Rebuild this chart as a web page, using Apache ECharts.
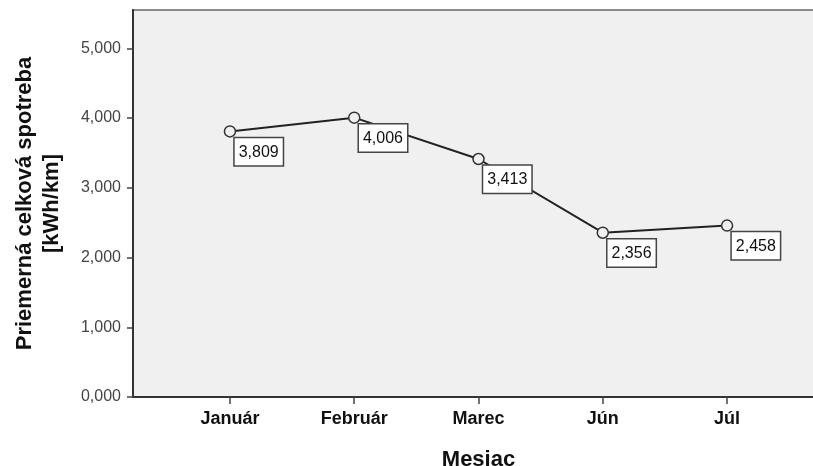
<!DOCTYPE html>
<html>
<head>
<meta charset="utf-8">
<script src="https://cdn.jsdelivr.net/npm/echarts@6/dist/echarts.min.js"></script>
<style>
  html, body { margin: 0; padding: 0; background: #fff; }
  #chart { width: 813px; height: 466px; }
</style>
</head>
<body>
<div id="chart"></div>
<script>
"use strict";

// mesiace a priemerná spotreba
const months = ["Január", "Február", "Marec", "Jún", "Júl"];
const consumption = [3.809, 4.006, 3.413, 2.356, 2.458];
const yTicks = [0, 1, 2, 3, 4, 5];
const xTicks = [0, 1, 2, 3, 4];

const fmt = v => v.toFixed(3).replace(".", ",");

const chart = echarts.init(document.getElementById("chart"));

chart.setOption({
  backgroundColor: "#fff",
  animation: false,
  grid: {
    left: 133, width: 691, top: 10, bottom: 69,
    outerBoundsMode: "none", containLabel: false,
    show: true, backgroundColor: "#F0F0F0", borderColor: "#8a8a8a", borderWidth: 2
  },
  xAxis: {
    type: "value", min: -0.78, max: 4.78,
    name: "Mesiac", nameLocation: "middle", nameGap: 52,
    nameTextStyle: { fontFamily: "Liberation Sans", fontWeight: "bold", fontSize: 22, color: "#111" },
    axisLine: { show: true, onZero: false, lineStyle: { color: "#333", width: 2 } },
    axisTick: { show: true, length: 7, customValues: xTicks, lineStyle: { color: "#444", width: 1.5 } },
    axisLabel: {
      customValues: xTicks, margin: 13,
      fontFamily: "Liberation Sans", fontWeight: "bold", fontSize: 18, color: "#111",
      formatter: v => months[Math.round(v)] || ""
    },
    splitLine: { show: false }
  },
  yAxis: {
    type: "value", min: 0, max: 5.55,
    name: "Priemerná celková spotreba\n[kWh/km]", nameLocation: "middle", nameGap: 68,
    nameTextStyle: { fontFamily: "Liberation Sans", fontWeight: "bold", fontSize: 22, color: "#111", lineHeight: 27 },
    axisLine: { show: true, onZero: false, lineStyle: { color: "#333", width: 2 } },
    axisTick: { show: true, length: 6, customValues: yTicks, lineStyle: { color: "#444", width: 1.5 } },
    axisLabel: {
      customValues: yTicks, margin: 12,
      fontFamily: "Liberation Sans", fontSize: 16, color: "#444",
      formatter: v => fmt(v)
    },
    splitLine: { show: false }
  },
  series: [{
    type: "line",
    data: consumption.map((v, i) => [i, v]),
    symbol: "circle", symbolSize: 11,
    lineStyle: { color: "#222", width: 2 },
    itemStyle: { color: "#F0F0F0", borderColor: "#333", borderWidth: 1.5 },
    label: {
      show: true, position: [11, 13], align: "left", verticalAlign: "top",
      formatter: p => fmt(p.value[1]),
      fontFamily: "Liberation Sans", fontSize: 16, color: "#111",
      backgroundColor: "#fff", borderColor: "#444", borderWidth: 1.5,
      padding: [6, 4, 5, 4]
    }
  }]
});
</script>
</body>
</html>
